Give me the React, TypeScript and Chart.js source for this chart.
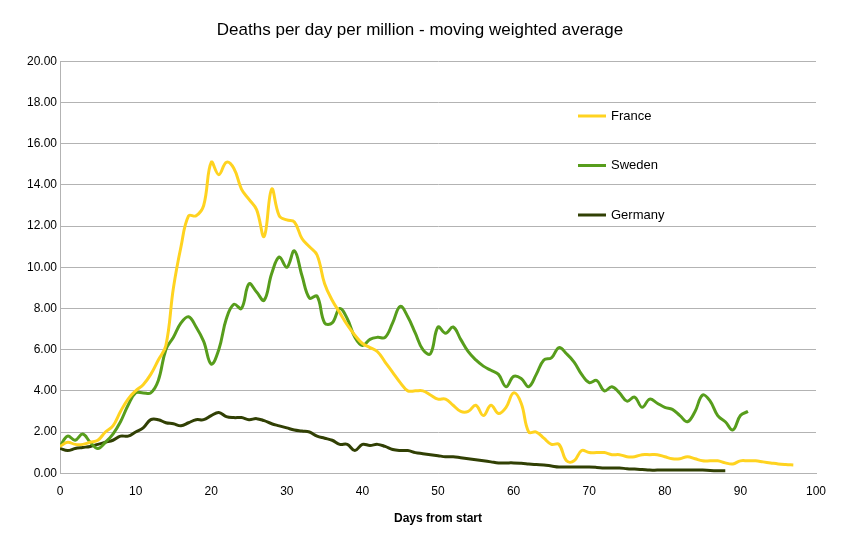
import React, { useRef, useEffect } from 'react';
import Chart from 'chart.js/auto';

const france = [1.3, 1.5, 1.4, 1.4, 1.5, 1.6, 2.0, 2.3, 3.0, 3.6, 4.0, 4.3, 4.8, 5.5, 6.2, 9.0, 11.0, 12.5, 12.5, 13.0,
  15.1, 14.5, 15.1, 14.8, 13.8, 13.3, 12.8, 11.5, 13.8, 12.5, 12.3, 12.2, 11.4, 11.0, 10.6, 9.2, 8.4, 7.8, 7.2, 6.7,
  6.3, 6.1, 5.9, 5.4, 4.9, 4.4, 4.0, 4.0, 4.0, 3.8, 3.6, 3.6, 3.3, 3.0, 3.0, 3.3, 2.8, 3.3, 2.9, 3.2,
  3.9, 3.4, 2.0, 2.0, 1.7, 1.4, 1.4, 0.6, 0.6, 1.1, 1.0, 1.0, 1.0, 0.9, 0.9, 0.8, 0.8, 0.9, 0.9, 0.9,
  0.8, 0.7, 0.7, 0.8, 0.7, 0.6, 0.6, 0.6, 0.5, 0.45, 0.6, 0.6, 0.6, 0.55, 0.5, 0.45, 0.42, 0.4];

const sweden = [1.3, 1.8, 1.6, 1.9, 1.5, 1.2, 1.5, 1.9, 2.5, 3.3, 3.9, 3.9, 3.9, 4.5, 6.0, 6.6, 7.3, 7.6, 7.1, 6.4,
  5.3, 6.0, 7.5, 8.2, 8.0, 9.2, 8.8, 8.4, 9.7, 10.5, 10.0, 10.8, 9.6, 8.5, 8.6, 7.3, 7.3, 8.0, 7.5, 6.6,
  6.2, 6.5, 6.6, 6.6, 7.3, 8.1, 7.6, 6.8, 6.0, 5.8, 7.1, 6.8, 7.1, 6.5, 5.9, 5.5, 5.2, 5.0, 4.8, 4.2,
  4.7, 4.6, 4.2, 4.8, 5.5, 5.6, 6.1, 5.8, 5.4, 4.8, 4.4, 4.5, 4.0, 4.2, 3.9, 3.5, 3.7, 3.2, 3.6, 3.4,
  3.2, 3.1, 2.8, 2.5, 3.0, 3.8, 3.5, 2.8, 2.5, 2.1, 2.8, 3.0];

const germany = [1.2, 1.1, 1.2, 1.25, 1.3, 1.4, 1.5, 1.6, 1.8, 1.8, 2.0, 2.2, 2.6, 2.6, 2.45, 2.4, 2.3, 2.45, 2.6, 2.6,
  2.8, 2.95, 2.75, 2.7, 2.7, 2.6, 2.65, 2.55, 2.4, 2.3, 2.2, 2.1, 2.05, 2.0, 1.8, 1.7, 1.6, 1.4, 1.4, 1.1,
  1.4, 1.35, 1.4, 1.3, 1.15, 1.1, 1.1, 1.0, 0.95, 0.9, 0.85, 0.8, 0.8, 0.75, 0.7, 0.65, 0.6, 0.55, 0.5, 0.5,
  0.5, 0.48, 0.45, 0.42, 0.4, 0.35, 0.3, 0.3, 0.3, 0.3, 0.3, 0.28, 0.25, 0.25, 0.25, 0.22, 0.2, 0.18, 0.15, 0.15,
  0.15, 0.15, 0.15, 0.15, 0.15, 0.15, 0.13, 0.12, 0.12];

const seriesNames = ['France', 'Sweden', 'Germany'];
const seriesColors = ['#ffd320', '#579d1c', '#314004'];

const toPoints = (arr: number[]) => arr.map((y, x) => ({ x, y }));

const sideLegend = {
  id: 'sideLegend',
  afterDraw(chart: any) {
    const ctx = chart.ctx;
    ctx.save();
    ctx.font = '13px "Liberation Sans", Arial, sans-serif';
    ctx.textBaseline = 'middle';
    seriesNames.forEach((name, i) => {
      const y = 116 + i * 49.5;
      ctx.strokeStyle = seriesColors[i];
      ctx.lineWidth = 3;
      ctx.beginPath();
      ctx.moveTo(578, y);
      ctx.lineTo(606, y);
      ctx.stroke();
      ctx.fillStyle = '#000';
      ctx.fillText(name, 611, y);
    });
    ctx.restore();
  },
};

const App: React.FC = () => {
  const chartRef = useRef<HTMLCanvasElement>(null);
  const chartInstance = useRef<Chart | null>(null);

  useEffect(() => {
    if (!chartRef.current) return;
    if (chartInstance.current) chartInstance.current.destroy();
    Chart.defaults.font.family = '"Liberation Sans", Arial, sans-serif';
    Chart.defaults.color = '#000';
    const data = [france, sweden, germany];
    chartInstance.current = new Chart(chartRef.current.getContext('2d')!, {
      type: 'line',
      data: {
        datasets: seriesNames.map((name, i) => ({
          label: name,
          data: toPoints(data[i]),
          borderColor: seriesColors[i],
          backgroundColor: seriesColors[i],
          borderWidth: 3,
          pointRadius: 0,
          tension: 0.4,
          fill: false,
        })),
      },
      options: {
        animation: false,
        responsive: false,
        layout: { padding: { left: 24, right: 52, top: 0, bottom: 10 } },
        plugins: {
          legend: { display: false },
          tooltip: { enabled: false },
          title: {
            display: true,
            text: 'Deaths per day per million - moving weighted average',
            font: { size: 17, weight: 'normal' },
            padding: { top: 20, bottom: 21 },
          },
        },
        scales: {
          x: {
            type: 'linear',
            min: 0,
            max: 100,
            ticks: { stepSize: 10, font: { size: 12 } },
            grid: { display: false, drawTicks: true },
            border: { color: '#b3b3b3' },
            title: { display: true, text: 'Days from start', font: { size: 12, weight: 'bold' }, padding: { top: 10 } },
          },
          y: {
            min: 0,
            max: 20,
            ticks: { stepSize: 2, font: { size: 12 }, callback: (v: any) => Number(v).toFixed(2) },
            grid: { color: '#b3b3b3', drawTicks: false },
            border: { color: '#b3b3b3' },
          },
        },
      },
      plugins: [sideLegend],
    });
    return () => {
      if (chartInstance.current) {
        chartInstance.current.destroy();
        chartInstance.current = null;
      }
    };
  }, []);

  return (
    <div style={{ position: 'fixed', left: 0, top: 0, width: 868, height: 540, background: '#fff' }}>
      <canvas ref={chartRef} width={868} height={540} />
    </div>
  );
};

export default App;
